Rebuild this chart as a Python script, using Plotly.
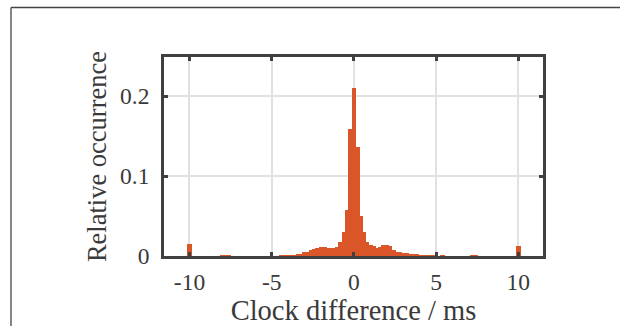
import plotly.graph_objects as go

# Histogram bin centres (ms) and relative occurrence
bin_centers = [-10.0, -8.0, -7.8, -7.6,
               -4.4, -4.2, -4.0, -3.8, -3.6, -3.4, -3.2, -3.0, -2.8, -2.6,
               -2.4, -2.2, -2.0, -1.8, -1.6, -1.4, -1.2, -1.0, -0.8, -0.6,
               -0.4, -0.2, 0.0, 0.2, 0.4, 0.6, 0.8, 1.0, 1.2, 1.4, 1.6,
               1.8, 2.0, 2.2, 2.4, 2.6, 2.8, 3.0, 3.2, 3.4, 3.6, 3.8, 4.0,
               4.2, 4.4, 4.6, 4.8, 5.0, 5.4, 7.2, 7.4, 10.0]
rel_occurrence = [0.015, 0.0008, 0.0008, 0.0008,
                  0.0008, 0.001, 0.001, 0.001, 0.0012, 0.0018, 0.0025, 0.0045, 0.0055, 0.0075,
                  0.0085, 0.0104, 0.0115, 0.0117, 0.0104, 0.0104, 0.0098, 0.0117, 0.018, 0.0296,
                  0.057, 0.159, 0.210, 0.136, 0.050, 0.030, 0.017, 0.0137, 0.0125, 0.0096, 0.0117,
                  0.0137, 0.0137, 0.012, 0.0075, 0.0054, 0.0044, 0.0043, 0.0035, 0.0023, 0.002, 0.0015, 0.001,
                  0.001, 0.001, 0.0008, 0.0008, 0.0006, 0.0006, 0.0006, 0.0006, 0.0125]

x_ticks = [-10, -5, 0, 5, 10]
x_tick_labels = ["-10", "-5", "0", "5", "10"]
y_ticks = [0, 0.1, 0.2]
y_tick_labels = ["0", "0.1", "0.2"]

axis_col = "#404040"
font_fam = "Liberation Serif"
text_col = "#3a3a3a"

fig = go.Figure()
fig.add_trace(go.Bar(
    x=bin_centers, y=rel_occurrence, width=0.28,
    marker=dict(color="#DA5527", line=dict(width=0)),
    showlegend=False,
))

common = dict(
    showline=True, linecolor=axis_col, linewidth=2.8, mirror="ticks",
    ticks="inside", ticklen=4, tickwidth=2.8, tickcolor=axis_col,
    showgrid=True, gridcolor="#E1E1E1", gridwidth=2.2, zeroline=False,
    automargin=False,
    tickfont=dict(family=font_fam, size=23.5, color=text_col),
)

W, H = 620, 326
L, R, T, B = 164, 77, 57, 70
pw, ph = W - L - R, H - T - B
fx, fy = 11, 7.5  # page frame corner (px)

fig.update_layout(
    width=W, height=H,
    margin=dict(l=L, r=R, t=T, b=B),
    paper_bgcolor="white", plot_bgcolor="white",
    bargap=0,
    xaxis=dict(range=[-11.55, 11.5], tickvals=x_ticks, ticktext=x_tick_labels,
               ticklabelstandoff=3,
               title=dict(text="Clock difference / ms", standoff=4,
                          font=dict(family=font_fam, size=28.5, color=text_col)),
               **common),
    yaxis=dict(range=[0, 0.249], tickvals=y_ticks, ticktext=y_tick_labels,
               ticklabelstandoff=7,
               title=dict(text="Relative occurrence", standoff=6,
                          font=dict(family=font_fam, size=26.5, color=text_col)),
               **common),
    shapes=[
        dict(type="line", xref="paper", yref="paper",
             x0=(fx - L) / pw, x1=(W + 20 - L) / pw, y0=(H - B - fy) / ph, y1=(H - B - fy) / ph,
             line=dict(color="#444444", width=1.3)),
        dict(type="line", xref="paper", yref="paper",
             x0=(fx - L) / pw, x1=(fx - L) / pw, y0=(H - B - fy) / ph, y1=-0.5,
             line=dict(color="#444444", width=1.3)),
    ],
)

fig.write_html(
    "out.html",
    config={"displayModeBar": False},
    post_script="document.body.style.margin='0';document.body.style.overflow='hidden';",
)
